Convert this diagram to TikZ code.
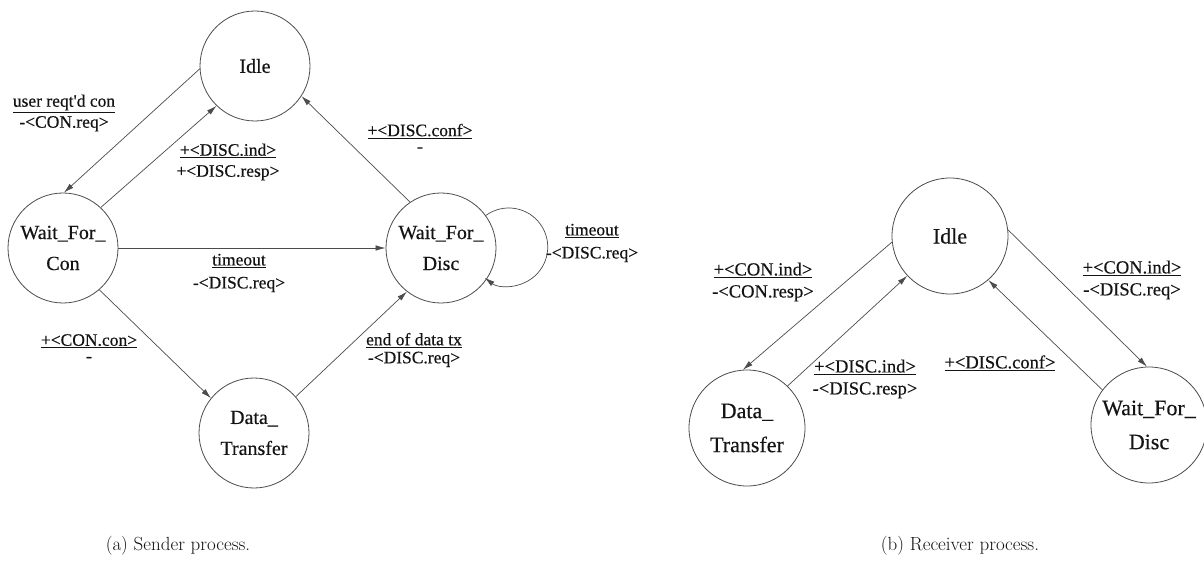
\documentclass[tikz,border=0pt]{standalone}
\usepackage{fontspec}
\newfontfamily\tms[FakeBold=0.4]{Liberation Serif}
\usetikzlibrary{arrows.meta}
\definecolor{ln}{gray}{0.3}
\definecolor{tx}{gray}{0.08}
\begin{document}
\begin{tikzpicture}[x=1pt,y=1pt,
  stnode/.style={circle,draw=ln,line width=0.8pt,minimum size=110pt,inner sep=0pt,align=center,text=tx,font=\tms\fontsize{20}{31}\selectfont},
  rstnode/.style={stnode,minimum size=116pt,font=\tms\fontsize{22}{34}\selectfont},
  conn/.style={draw=ln,line width=0.7pt,-{Latex[length=10pt,width=5.5pt]}},
  lbl/.style={align=center,text=tx,inner sep=0pt,font=\tms\fontsize{17.5}{21}\selectfont},
  rlbl/.style={lbl,font=\tms\fontsize{18.5}{22}\selectfont},
  captext/.style={text=tx,inner sep=0pt,font=\fontsize{19}{22}\selectfont}]
\useasboundingbox (0,0) rectangle (1204,560);
\fill[white] (0,0) rectangle (1204,560);

% ---- Sender process ----
\node[stnode] (S_I) at (255,494) {Idle};
\node[stnode] (S_C) at (63,312) {Wait\_For\_\\Con};
\node[stnode] (S_D) at (441,312) {Wait\_For\_\\Disc};
\node[stnode] (S_T) at (254,127) {Data\_\\Transfer};

\draw[conn] (S_I.183) -- (S_C.89);
\draw[conn] (S_C.47) -- (S_I.226);
\draw[conn] (S_C.east) -- (S_D.west);
\draw[conn] (S_C.-49) -- (S_T.141);
\draw[conn] (S_T.41) -- (S_D.232);
\draw[conn] (S_D.124) -- (S_I.-33);
\draw[conn] (S_D.36) arc[start angle=126,end angle=-128,radius=39];

\node[lbl] (l1) at (64,447) {\underline{user reqt'd con}\\-<CON.req>};
\node[lbl] (l2) at (228,398) {\underline{+<DISC.ind>}\\+<DISC.resp>};
\node[lbl] (l3) at (239,287) {\underline{timeout}\\[2pt]-<DISC.req>};
\node[lbl] (l4) at (89,212) {\underline{+<CON.con>}\\[-5pt]-};
\node[lbl] (l5) at (414,210) {\underline{end of data tx}\\[-3pt]-<DISC.req>};
\node[lbl] (l6) at (420,422) {\underline{+<DISC.conf>}\\[-5pt]-};
\node[lbl] (l7) at (592,317) {\underline{timeout}\\[2pt]-<DISC.req>};

% ---- Receiver process ----
\node[rstnode] (R_I) at (950,324) {Idle};
\node[rstnode] (R_T) at (747,132) {Data\_\\Transfer};
\node[rstnode] (R_D) at (1149,135) {Wait\_For\_\\Disc};

\draw[conn] (R_I.186) -- (R_T.94);
\draw[conn] (R_T.46) -- (R_I.223);
\draw[conn] (R_D.143) -- (R_I.-49);
\draw[conn] (R_I.6) -- (R_D.92);

\node[rlbl] (m1) at (763,278) {\underline{+<CON.ind>}\\-<CON.resp>};
\node[rlbl] (m2) at (1132,280) {\underline{+<CON.ind>}\\-<DISC.req>};
\node[rlbl] (m3) at (865,181) {\underline{+<DISC.ind>}\\-<DISC.resp>};
\node[rlbl] (m4) at (1000,197) {\underline{+<DISC.conf>}};

% ---- captions ----
\node[captext] (ca) at (178,14) {(a) Sender process.};
\node[captext] (cb) at (960,14) {(b) Receiver process.};
\end{tikzpicture}
\end{document}
